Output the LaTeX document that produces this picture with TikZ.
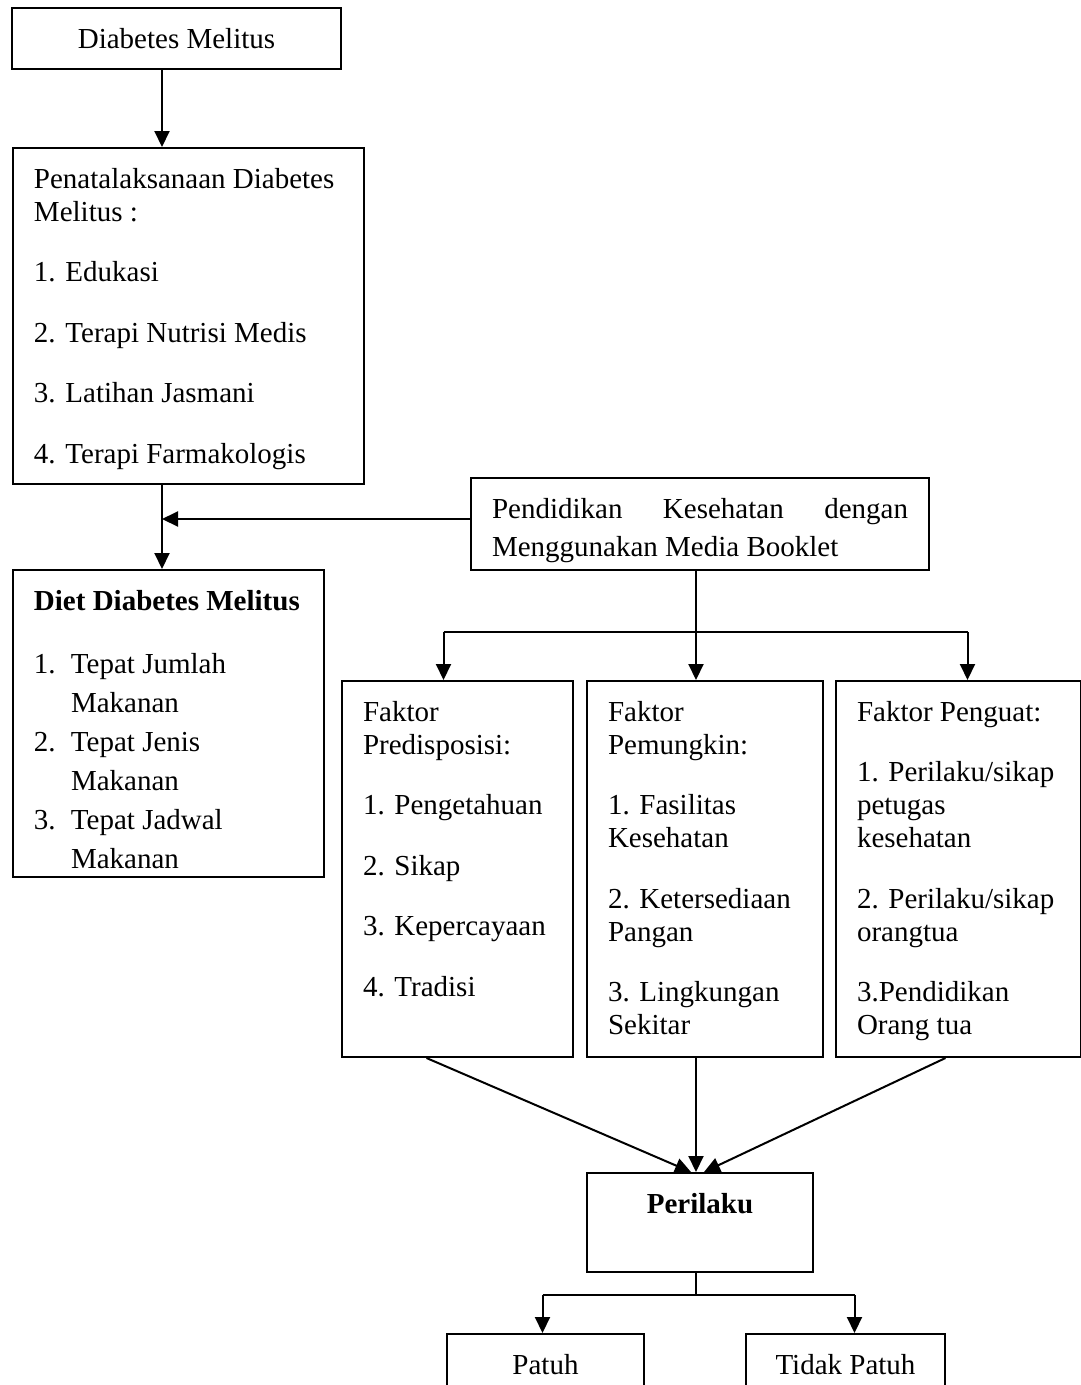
\documentclass[tikz,border=0pt]{standalone}
\usepackage{fontspec}
\setmainfont{Liberation Serif}
\usetikzlibrary{positioning,arrows.meta}

% text block of fixed size, top aligned
\newcommand{\boxbody}[3]{\begin{minipage}[t][#2][t]{#1}\raggedright\strut#3\end{minipage}}
% hanging list item
\newcommand{\itm}[2]{\makebox[37pt][l]{#1}#2}

\begin{document}
\begin{tikzpicture}[
  x=1pt, y=-1pt,
  >={Triangle[length=16pt,width=15pt]},
  line width=2pt,
  txt/.style={font=\fontsize{29}{33}\selectfont},
  titlebox/.style={txt,draw,inner sep=0pt,anchor=center},
  panel/.style={txt,draw,anchor=north west,inner xsep=21pt,inner ysep=17pt}]

\useasboundingbox (0,0) rectangle (1081,1385);

% ============ Top column ============
\node[titlebox,minimum width=329pt,minimum height=61pt] (dm) at (176.5,38.5) {Diabetes Melitus};
\node[panel] (pen) at (12,147) {\boxbody{309pt}{302pt}{%
  Penatalaksanaan Diabetes\\Melitus :\\[27.5pt]
  1. Edukasi\\[27.5pt]
  2. Terapi Nutrisi Medis\\[27.5pt]
  3. Latihan Jasmani\\[27.5pt]
  4. Terapi Farmakologis}};
\node[panel] (diet) at (12,569) {\boxbody{269pt}{273pt}{%
  \textbf{Diet Diabetes Melitus}\\[30pt]
  \itm{1.}{Tepat Jumlah}\\[6pt]
  \hspace*{37pt}Makanan\\[6pt]
  \itm{2.}{Tepat Jenis}\\[6pt]
  \hspace*{37pt}Makanan\\[6pt]
  \itm{3.}{Tepat Jadwal}\\[6pt]
  \hspace*{37pt}Makanan}};

% ============ Health education ============
\node[panel] (pk) at (470,477) {\begin{minipage}[t][58pt][t]{416pt}\strut
  Pendidikan\hfill Kesehatan\hfill dengan\\[5pt]
  Menggunakan Media Booklet\end{minipage}};

% ============ Three factors ============
\node[panel] (fa) at (341,680) {\boxbody{189pt}{342pt}{%
  Faktor\\Predisposisi:\\[27.5pt]
  1. Pengetahuan\\[27.5pt]
  2. Sikap\\[27.5pt]
  3. Kepercayaan\\[27.5pt]
  4. Tradisi}};
\node[panel] (fb) at (586,680) {\boxbody{194pt}{342pt}{%
  Faktor\\Pemungkin:\\[27.5pt]
  1. Fasilitas\\Kesehatan\\[27.5pt]
  2. Ketersediaan\\Pangan\\[27.5pt]
  3. Lingkungan\\Sekitar}};
\node[panel] (fc) at (835,680) {\boxbody{203pt}{342pt}{%
  Faktor Penguat:\\[27.5pt]
  1. Perilaku/sikap\\petugas\\kesehatan\\[27.5pt]
  2. Perilaku/sikap\\orangtua\\[27.5pt]
  3.Pendidikan\\Orang tua}};

% ============ Behaviour and outcome ============
\node[panel] (per) at (586,1172) {\boxbody{184pt}{65pt}{\centering\textbf{Perilaku}}};
\node[panel,inner xsep=0pt] (pa) at (446,1333) {\boxbody{197pt}{27pt}{\centering Patuh}};
\node[panel,inner xsep=0pt] (tp) at (745,1333) {\boxbody{199pt}{27pt}{\centering Tidak Patuh}};

% helper coordinates for the connector lines
\coordinate (xl) at (162,0);
\coordinate (xm) at (696,0);
\coordinate (j1) at (0,632);
\coordinate (j2) at (0,1295);

% ============ Connectors ============
\draw[->] (dm.south -| xl) -- (pen.north -| xl);
\draw[->] (pen.south -| xl) -- (diet.north -| xl);
\draw[->] ([yshift=5pt]pk.west) -- ([yshift=5pt]pk.west -| xl);
\draw[->] (pk.south -| xm) -- (fb.north -| xm);
\draw[->] ([xshift=-14pt]fa.north |- j1) -| ([xshift=-14pt]fa.north);
\draw[->] ([xshift=9pt]fc.north |- j1) -- ([xshift=9pt]fc.north);
\draw ([xshift=-14pt]fa.north |- j1) -- ([xshift=9pt]fc.north |- j1);
\draw[->] ([xshift=-31pt]fa.south) -- ([xshift=-9pt]per.north);
\draw[->] (fb.south -| xm) -- (per.north -| xm);
\draw[->] ([xshift=-13pt]fc.south) -- ([xshift=4pt]per.north);
\draw (per.south -| xm) -- (xm |- j2);
\draw[->] ([xshift=-3pt]pa.north |- j2) -- ([xshift=-3pt]pa.north);
\draw[->] ([xshift=9pt]tp.north |- j2) -- ([xshift=9pt]tp.north);
\draw ([xshift=-3pt]pa.north |- j2) -- ([xshift=9pt]tp.north |- j2);

\end{tikzpicture}
\end{document}
